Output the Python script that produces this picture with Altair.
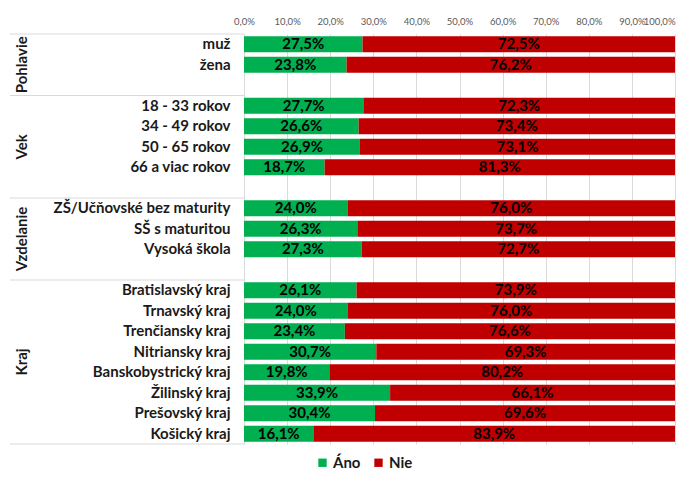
import altair as alt
import pandas as pd

groups = ["Pohlavie", "Vek", "Vzdelanie", "Kraj"]
categories = [
    ["muž", "žena"],
    ["18 - 33 rokov", "34 - 49 rokov", "50 - 65 rokov", "66 a viac rokov"],
    ["ZŠ/Učňovské bez maturity", "SŠ s maturitou", "Vysoká škola"],
    ["Bratislavský kraj", "Trnavský kraj", "Trenčiansky kraj", "Nitriansky kraj",
     "Banskobystrický kraj", "Žilinský kraj", "Prešovský kraj", "Košický kraj"],
]
ano = [
    [27.5, 23.8],
    [27.7, 26.6, 26.9, 18.7],
    [24.0, 26.3, 27.3],
    [26.1, 24.0, 23.4, 30.7, 19.8, 33.9, 30.4, 16.1],
]
nie = [
    [72.5, 76.2],
    [72.3, 73.4, 73.1, 81.3],
    [76.0, 73.7, 72.7],
    [73.9, 76.0, 76.6, 69.3, 80.2, 66.1, 69.6, 83.9],
]
series = ["Áno", "Nie"]
colors = ["#00B050", "#C00000"]
x_ticks = [0, 10, 20, 30, 40, 50, 60, 70, 80, 90, 100]

FONT = "Lato"
FS = 15

# build row order (with spacer rows between groups)
keys = []
spacers = []
rows = []
for gi, (g, cats) in enumerate(zip(groups, categories)):
    for ci, c in enumerate(cats):
        keys.append(c)
        a = ano[gi][ci]
        n = nie[gi][ci]
        rows.append(dict(key=c, series=series[0], start=0.0, end=a, mid=a / 2,
                         lab=f"{a:.1f}".replace(".", ",") + "%"))
        rows.append(dict(key=c, series=series[1], start=a, end=a + n, mid=a + n / 2,
                         lab=f"{n:.1f}".replace(".", ",") + "%"))
    if gi < len(groups) - 1:
        sp = " " * (gi + 1)
        keys.append(sp)
        spacers.append(sp)

bars_df = pd.DataFrame(rows)

yscale = alt.Scale(domain=keys, paddingInner=0, paddingOuter=0)

bars = alt.Chart(bars_df).mark_bar(height={"band": 0.78}).encode(
    x=alt.X("start:Q", scale=alt.Scale(domain=[0, 100], nice=False),
            axis=alt.Axis(orient="top", values=x_ticks, title=None,
                          labelExpr="replace(format(datum.value, '.1f'), '.', ',') + '%'",
                          labelFontSize=9.5, labelColor="#595959", labelFont=FONT,
                          labelOverlap=False, labelBound=False,
                          labelAlign={"condition": {"test": "datum.value == 100", "value": "right"},
                                      "value": "center"},
                          ticks=False, domain=False, labelPadding=8,
                          grid=True, gridColor="#d9d9d9", gridWidth=1)),
    x2="end:Q",
    y=alt.Y("key:N", scale=yscale, sort=keys,
            axis=alt.Axis(title=None, ticks=False, domain=True, domainColor="#d9d9d9",
                          labelFontSize=FS, labelFontWeight="bold", labelFont=FONT,
                          labelColor="#1a1a1a", labelPadding=14, labelLimit=400)),
    color=alt.Color("series:N", scale=alt.Scale(domain=series, range=colors),
                    legend=alt.Legend(title=None, orient="none", legendX=71, legendY=421,
                                      direction="horizontal", symbolType="square",
                                      symbolSize=70, symbolStrokeWidth=0,
                                      labelFontSize=FS, labelFontWeight="bold",
                                      labelFont=FONT, labelColor="#1a1a1a",
                                      columnPadding=10, labelOffset=3)),
)

texts = alt.Chart(bars_df).mark_text(fontSize=FS, fontWeight="bold", font=FONT,
                                     color="#000000", baseline="middle").encode(
    x=alt.X("mid:Q"),
    y=alt.Y("key:N", scale=yscale, sort=keys),
    text="lab:N",
)

# group separators in the label area
sep_top = pd.DataFrame({"key": [keys[0]]})
sep_bottom = pd.DataFrame({"key": spacers + [keys[-1]]})
rule_top = alt.Chart(sep_top).mark_rule(color="#d9d9d9", strokeWidth=1).encode(
    y=alt.Y("key:N", scale=yscale, sort=keys, bandPosition=0),
    x=alt.value(-234), x2=alt.value(0),
)
rule_bottom = alt.Chart(sep_bottom).mark_rule(color="#d9d9d9", strokeWidth=1).encode(
    y=alt.Y("key:N", scale=yscale, sort=keys, bandPosition=1),
    x=alt.value(-234), x2=alt.value(0),
)

# group titles (rotated), centered on each group's rows incl. spacer
g_mid = pd.DataFrame({"group": [groups[0], groups[1]],
                      "key": [categories[0][1], categories[1][2]]})
g_edge = pd.DataFrame({"group": [groups[2], groups[3]],
                       "key": [categories[2][1], categories[3][3]]})
gl1 = alt.Chart(g_mid).mark_text(angle=270, fontSize=FS, fontWeight="bold", font=FONT,
                                 color="#1a1a1a", align="center", baseline="middle").encode(
    y=alt.Y("key:N", scale=yscale, sort=keys, bandPosition=0.5),
    x=alt.value(-222), text="group:N",
)
gl2 = alt.Chart(g_edge).mark_text(angle=270, fontSize=FS, fontWeight="bold", font=FONT,
                                  color="#1a1a1a", align="center", baseline="middle").encode(
    y=alt.Y("key:N", scale=yscale, sort=keys, bandPosition=1),
    x=alt.value(-222), text="group:N",
)

chart = alt.layer(bars, texts, rule_top, rule_bottom, gl1, gl2).properties(
    width=431, height=410,
    autosize=alt.AutoSizeParams(type="none"),
    padding={"left": 236, "top": 26, "right": 8, "bottom": 27},
).configure_view(stroke=None)

chart.save("out.html", embed_options={"renderer": "svg", "actions": False})
